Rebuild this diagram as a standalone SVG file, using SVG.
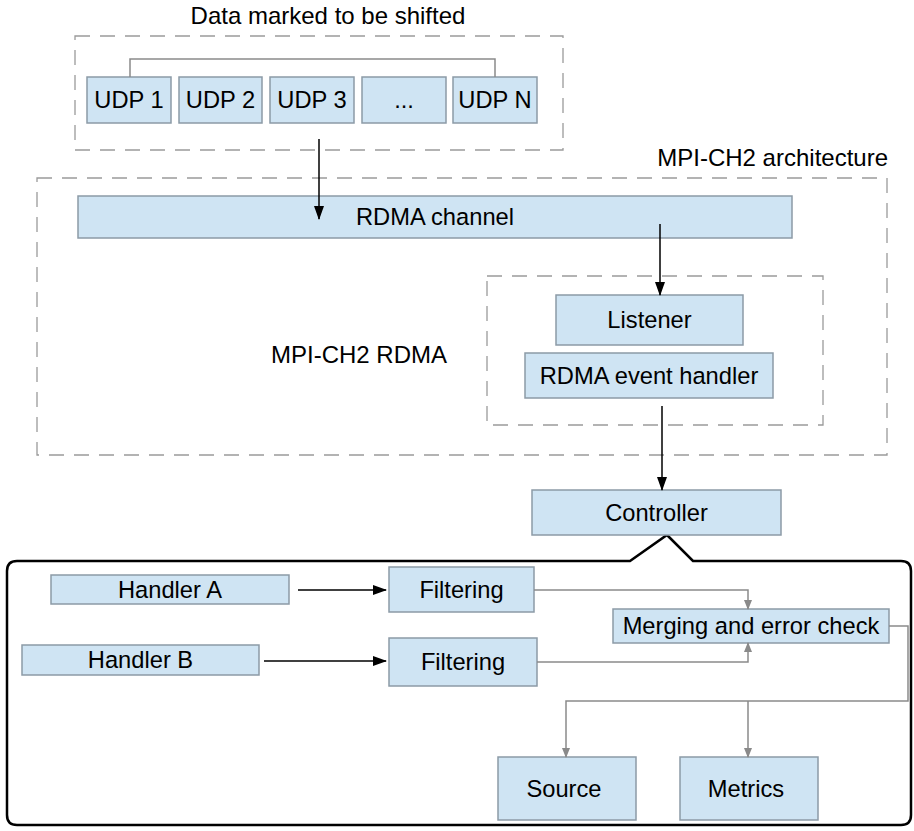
<svg xmlns="http://www.w3.org/2000/svg" width="914" height="831" viewBox="0 0 914 831">
<defs>
<style>
.box{fill:#cfe4f3;stroke:#8c9aa6;stroke-width:1.5}
.dash{fill:none;stroke:#9a9a9a;stroke-width:1.3;stroke-dasharray:15,10}
.t{font-family:"Liberation Sans",Arial,sans-serif;font-size:23.7px;fill:#000;text-anchor:middle;dominant-baseline:central}
.lbl{font-family:"Liberation Sans",Arial,sans-serif;font-size:24px;fill:#000}
.blk{fill:none;stroke:#000;stroke-width:1.5}
.gry{fill:none;stroke:#8a8a8a;stroke-width:1.5}
</style>
<marker id="ab" markerWidth="14" markerHeight="10" refX="13" refY="5" orient="auto" markerUnits="userSpaceOnUse"><path d="M0,0 L14,5 L0,10 z" fill="#000"/></marker>
<marker id="ag" markerWidth="10" markerHeight="8" refX="9" refY="4" orient="auto" markerUnits="userSpaceOnUse"><path d="M0,0 L10,4 L0,8 z" fill="#8a8a8a"/></marker>
</defs>
<rect width="914" height="831" fill="#fff"/>

<g id="groups">
<text class="lbl" x="328" y="24" text-anchor="middle">Data marked to be shifted</text>
<rect class="dash" x="75" y="36" width="488" height="114"/>
<text class="lbl" x="888" y="166" text-anchor="end">MPI-CH2 architecture</text>
<rect class="dash" x="37" y="178" width="850" height="277"/>
<rect class="dash" x="487" y="276" width="336" height="149"/>
<text class="lbl" x="359" y="363" text-anchor="middle">MPI-CH2 RDMA</text>
<path id="callout" d="M17,561 L630,561 L667,535 L693,561 L901,561 Q911,561 911,571 L911,815 Q911,825 901,825 L17,825 Q7,825 7,815 L7,571 Q7,561 17,561 Z" fill="none" stroke="#000" stroke-width="2.5"/>
</g>

<g id="udp1"><rect class="box" x="87" y="77" width="84" height="46"/><text class="t" x="129" y="100">UDP 1</text></g>
<g id="udp2"><rect class="box" x="179" y="77" width="83" height="46"/><text class="t" x="220.5" y="100">UDP 2</text></g>
<g id="udp3"><rect class="box" x="270" y="77" width="84" height="46"/><text class="t" x="312" y="100">UDP 3</text></g>
<g id="udpdots"><rect class="box" x="362" y="77" width="84" height="46"/><text class="t" x="404" y="100">...</text></g>
<g id="udpn"><rect class="box" x="453" y="77" width="84" height="46"/><text class="t" x="495" y="100">UDP N</text></g>
<g id="rdma-channel"><rect class="box" x="78" y="196" width="714" height="42"/><text class="t" x="435" y="217">RDMA channel</text></g>
<g id="listener"><rect class="box" x="556" y="295" width="187" height="50"/><text class="t" x="649.5" y="320">Listener</text></g>
<g id="rdma-event-handler"><rect class="box" x="525" y="353" width="248" height="45"/><text class="t" x="649" y="375.5">RDMA event handler</text></g>
<g id="controller"><rect class="box" x="532" y="490" width="249" height="45"/><text class="t" x="656.5" y="512.5">Controller</text></g>
<g id="handler-a"><rect class="box" x="51" y="575" width="238" height="29"/><text class="t" x="170" y="589.5">Handler A</text></g>
<g id="handler-b"><rect class="box" x="22" y="645" width="237" height="30"/><text class="t" x="140.5" y="660">Handler B</text></g>
<g id="filtering-1"><rect class="box" x="389" y="567" width="145" height="45"/><text class="t" x="461.5" y="589.5">Filtering</text></g>
<g id="filtering-2"><rect class="box" x="389" y="638" width="148" height="48"/><text class="t" x="463" y="662">Filtering</text></g>
<g id="merging"><rect class="box" x="613" y="609" width="276" height="34"/><text class="t" x="751" y="626">Merging and error check</text></g>
<g id="source"><rect class="box" x="498" y="757" width="138" height="63"/><text class="t" x="564" y="788.5">Source</text></g>
<g id="metrics"><rect class="box" x="680" y="757" width="138" height="63"/><text class="t" x="746" y="788.5">Metrics</text></g>

<g id="connectors">
<path class="gry" d="M130,77 V59 H495 V77"/>
<path class="blk" d="M319,139 V219" marker-end="url(#ab)"/>
<path class="blk" d="M660,224 V295" marker-end="url(#ab)"/>
<path class="blk" d="M662,406 V490" marker-end="url(#ab)"/>
<path class="blk" d="M298,590 H386" marker-end="url(#ab)"/>
<path class="blk" d="M264,661 H386" marker-end="url(#ab)"/>
<path class="gry" d="M534,590 H748 V609" marker-end="url(#ag)"/>
<path class="gry" d="M537,662 H748 V643" marker-end="url(#ag)"/>
<path class="gry" d="M889,626 H908 V701 H566 V757" marker-end="url(#ag)"/>
<path class="gry" d="M748,701 V757" marker-end="url(#ag)"/>
</g>
</svg>
